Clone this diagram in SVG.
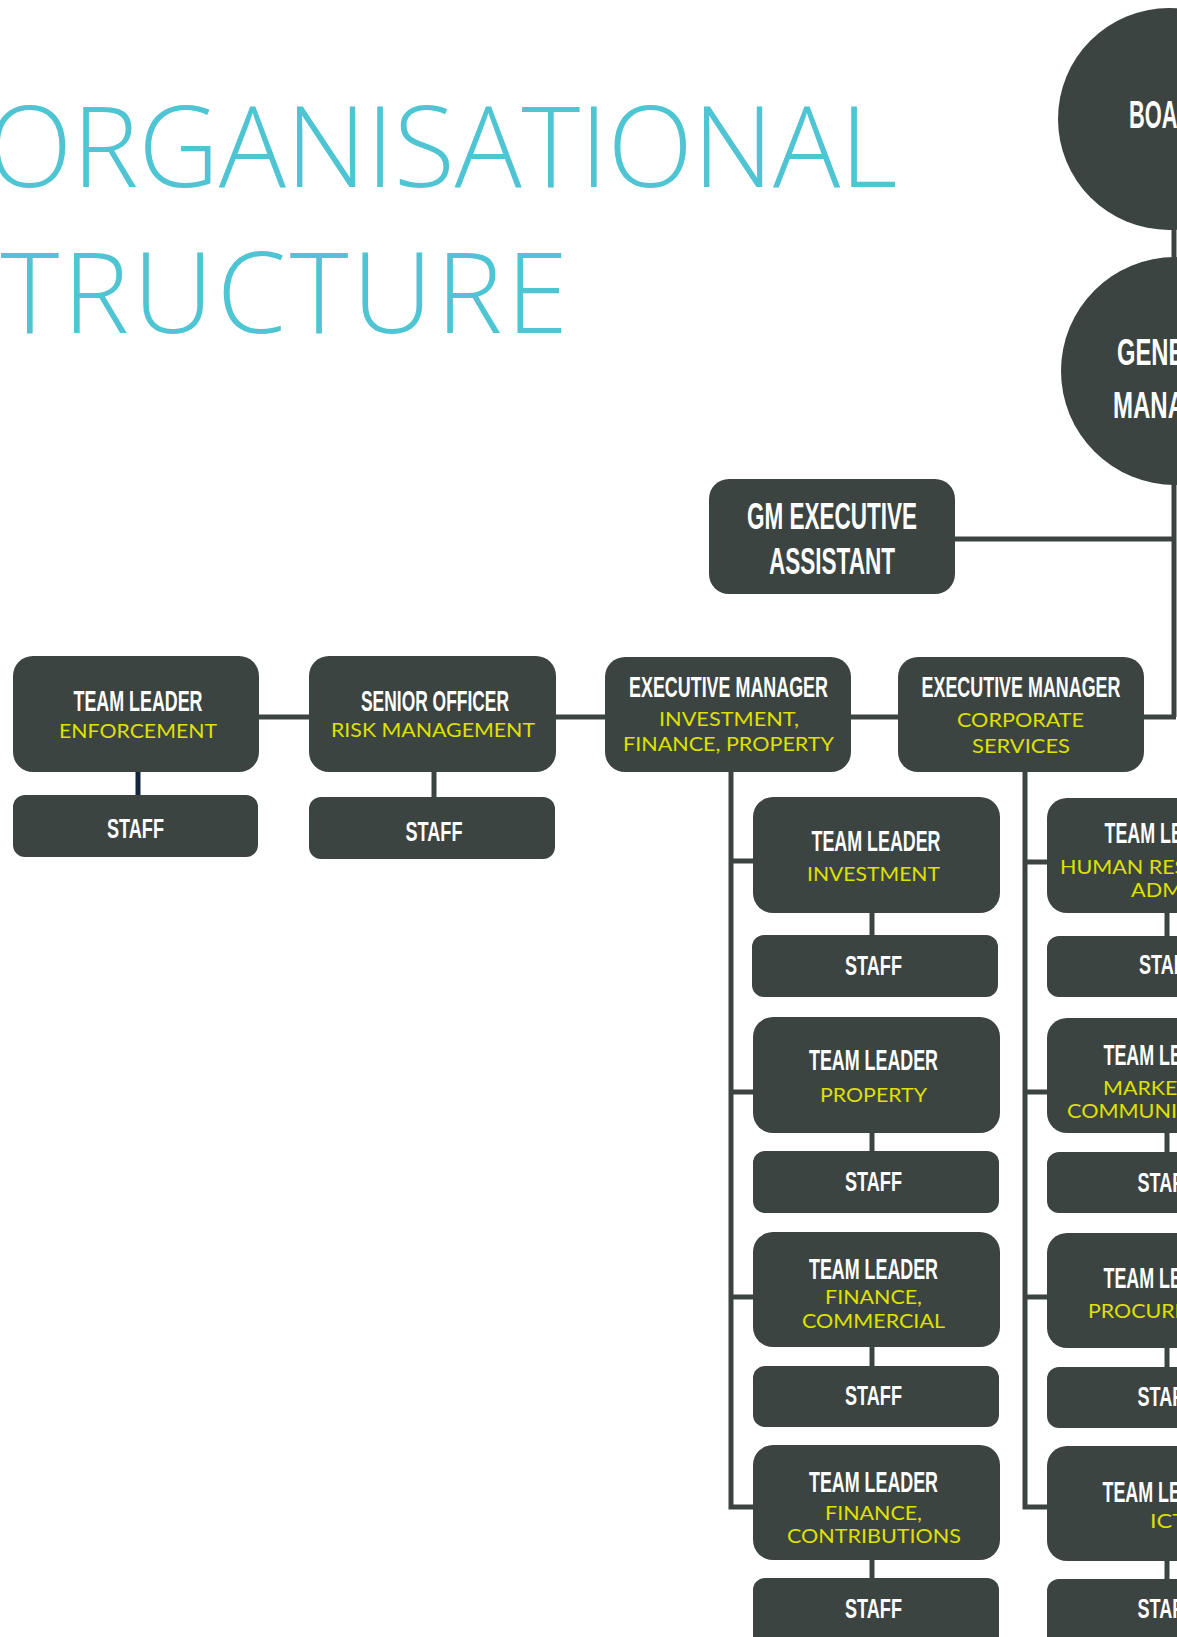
<svg xmlns="http://www.w3.org/2000/svg" width="1177" height="1637" viewBox="0 0 1177 1637">
<style>
.bg{fill:#ffffff}
.box{fill:#3c4441}
.ln{stroke:#3c4441;stroke-width:5;fill:none}
.nv{stroke:#16273a;stroke-width:5;fill:none}
.t{font-family:"Liberation Sans",Arial,sans-serif;font-weight:bold;fill:#ffffff;text-anchor:middle;font-size:30px}
.s{font-size:28px}
.big{font-size:36px}
.y{font-family:Lato,"Open Sans",sans-serif;font-size:19.5px;fill:#dfe000;text-anchor:middle}
.ttl{font-family:"Open Sans","Liberation Sans",sans-serif;font-weight:300;font-size:112px;fill:#4fc5d4;text-anchor:end}
</style>
<rect class="bg" x="0" y="0" width="1177" height="1637"/>

<g id="title">
<text class="ttl" x="897" y="187" letter-spacing="-0.4">ORGANISATIONAL</text>
<text class="ttl" x="571.5" y="333" letter-spacing="3.5">STRUCTURE</text>
</g>

<g id="connectors">
<path class="ln" d="M1174 225 V262"/>
<path class="ln" d="M1174 480 V717"/>
<path class="ln" d="M955 539 H1174"/>
<path class="ln" d="M259 717 H1176"/>
<path class="nv" d="M138 770 V797"/>
<path class="ln" d="M434 770 V799"/>
<path class="ln" d="M731 770 V1507 H755"/>
<path class="ln" d="M731 861 H755 M731 1092 H755 M731 1297 H755"/>
<path class="ln" d="M1025 770 V1507 H1049"/>
<path class="ln" d="M1025 862 H1049 M1025 1092 H1049 M1025 1297 H1049"/>
<path class="ln" d="M872 911 V937 M872 1131 V1153 M872 1345 V1368 M872 1558 V1580"/>
<path class="ln" d="M1167 911 V938 M1167 1131 V1154 M1167 1346 V1369 M1167 1559 V1581"/>
</g>

<g id="board">
<circle class="box" cx="1169" cy="119" r="111"/>
<text class="t" x="1169" y="128" style="font-size:39px" textLength="80" lengthAdjust="spacingAndGlyphs">BOARD</text>
</g>
<g id="general-manager">
<circle class="box" cx="1175" cy="371" r="114"/>
<text class="t" x="1175" y="365" style="font-size:37px" textLength="116" lengthAdjust="spacingAndGlyphs">GENERAL</text>
<text class="t" x="1175" y="418" style="font-size:37px" textLength="124" lengthAdjust="spacingAndGlyphs">MANAGER</text>
</g>

<g id="gm-executive-assistant">
<rect class="box" x="709" y="479" width="246" height="115" rx="20"/>
<text class="t big" x="832" y="529" textLength="170" lengthAdjust="spacingAndGlyphs">GM EXECUTIVE</text>
<text class="t big" x="832" y="574" textLength="126" lengthAdjust="spacingAndGlyphs">ASSISTANT</text>
</g>

<g id="tl-enforcement">
<rect class="box" x="13" y="656" width="246" height="116" rx="20"/>
<text class="t" x="138" y="711" textLength="129" lengthAdjust="spacingAndGlyphs">TEAM LEADER</text>
<text class="y" x="138" y="738" textLength="158" lengthAdjust="spacingAndGlyphs">ENFORCEMENT</text>
</g>
<g id="staff-enforcement">
<rect class="box" x="13" y="795" width="245" height="62" rx="12"/>
<text class="t s" x="135.5" y="838" textLength="57" lengthAdjust="spacingAndGlyphs">STAFF</text>
</g>

<g id="so-risk">
<rect class="box" x="309" y="656" width="247" height="116" rx="20"/>
<text class="t" x="435" y="711" textLength="148" lengthAdjust="spacingAndGlyphs">SENIOR OFFICER</text>
<text class="y" x="433" y="737" textLength="204" lengthAdjust="spacingAndGlyphs">RISK MANAGEMENT</text>
</g>
<g id="staff-risk">
<rect class="box" x="309" y="797" width="246" height="62" rx="12"/>
<text class="t s" x="434" y="841" textLength="57" lengthAdjust="spacingAndGlyphs">STAFF</text>
</g>

<g id="em-ifp">
<rect class="box" x="605" y="657" width="246" height="115" rx="20"/>
<text class="t" x="728.5" y="697" textLength="199" lengthAdjust="spacingAndGlyphs">EXECUTIVE MANAGER</text>
<text class="y" x="729" y="726" textLength="140" lengthAdjust="spacingAndGlyphs">INVESTMENT,</text>
<text class="y" x="728.5" y="751" textLength="211" lengthAdjust="spacingAndGlyphs">FINANCE, PROPERTY</text>
</g>

<g id="em-cs">
<rect class="box" x="898" y="657" width="246" height="115" rx="20"/>
<text class="t" x="1021" y="697" textLength="199" lengthAdjust="spacingAndGlyphs">EXECUTIVE MANAGER</text>
<text class="y" x="1020.5" y="727" textLength="127" lengthAdjust="spacingAndGlyphs">CORPORATE</text>
<text class="y" x="1021" y="753" textLength="98" lengthAdjust="spacingAndGlyphs">SERVICES</text>
</g>

<g id="tl-investment">
<rect class="box" x="753" y="797" width="247" height="116" rx="20"/>
<text class="t" x="876" y="851" textLength="129" lengthAdjust="spacingAndGlyphs">TEAM LEADER</text>
<text class="y" x="873.5" y="881" textLength="133" lengthAdjust="spacingAndGlyphs">INVESTMENT</text>
</g>
<g id="staff-investment">
<rect class="box" x="752" y="935" width="246" height="62" rx="12"/>
<text class="t s" x="873.5" y="975" textLength="57" lengthAdjust="spacingAndGlyphs">STAFF</text>
</g>

<g id="tl-property">
<rect class="box" x="753" y="1017" width="247" height="116" rx="20"/>
<text class="t" x="873.5" y="1070" textLength="129" lengthAdjust="spacingAndGlyphs">TEAM LEADER</text>
<text class="y" x="873.5" y="1102" textLength="107" lengthAdjust="spacingAndGlyphs">PROPERTY</text>
</g>
<g id="staff-property">
<rect class="box" x="753" y="1151" width="246" height="62" rx="12"/>
<text class="t s" x="873.5" y="1191" textLength="57" lengthAdjust="spacingAndGlyphs">STAFF</text>
</g>

<g id="tl-finance-commercial">
<rect class="box" x="753" y="1232" width="247" height="115" rx="20"/>
<text class="t" x="873.5" y="1279" textLength="129" lengthAdjust="spacingAndGlyphs">TEAM LEADER</text>
<text class="y" x="873.5" y="1304" textLength="97" lengthAdjust="spacingAndGlyphs">FINANCE,</text>
<text class="y" x="873.5" y="1328" textLength="143" lengthAdjust="spacingAndGlyphs">COMMERCIAL</text>
</g>
<g id="staff-finance-commercial">
<rect class="box" x="753" y="1366" width="246" height="61" rx="12"/>
<text class="t s" x="873.5" y="1405" textLength="57" lengthAdjust="spacingAndGlyphs">STAFF</text>
</g>

<g id="tl-finance-contributions">
<rect class="box" x="753" y="1445" width="247" height="115" rx="20"/>
<text class="t" x="873.5" y="1492" textLength="129" lengthAdjust="spacingAndGlyphs">TEAM LEADER</text>
<text class="y" x="873.5" y="1520" textLength="97" lengthAdjust="spacingAndGlyphs">FINANCE,</text>
<text class="y" x="874" y="1543" textLength="174" lengthAdjust="spacingAndGlyphs">CONTRIBUTIONS</text>
</g>
<g id="staff-finance-contributions">
<rect class="box" x="753" y="1578" width="246" height="75" rx="12"/>
<text class="t s" x="873.5" y="1618" textLength="57" lengthAdjust="spacingAndGlyphs">STAFF</text>
</g>

<g id="tl-hr">
<rect class="box" x="1047" y="798" width="247" height="115" rx="20"/>
<text class="t" x="1169" y="843" textLength="129" lengthAdjust="spacingAndGlyphs">TEAM LEADER</text>
<text class="y" x="1168" y="874" textLength="216" lengthAdjust="spacingAndGlyphs">HUMAN RESOURCES,</text>
<text class="y" x="1168" y="897" textLength="74" lengthAdjust="spacingAndGlyphs">ADMIN</text>
</g>
<g id="staff-hr">
<rect class="box" x="1047" y="936" width="246" height="61" rx="12"/>
<text class="t s" x="1167.5" y="974" textLength="57" lengthAdjust="spacingAndGlyphs">STAFF</text>
</g>

<g id="tl-marketing">
<rect class="box" x="1047" y="1018" width="247" height="115" rx="20"/>
<text class="t" x="1168" y="1065" textLength="129" lengthAdjust="spacingAndGlyphs">TEAM LEADER</text>
<text class="y" x="1168" y="1095" textLength="130" lengthAdjust="spacingAndGlyphs">MARKETING,</text>
<text class="y" x="1168" y="1118" textLength="202" lengthAdjust="spacingAndGlyphs">COMMUNICATIONS</text>
</g>
<g id="staff-marketing">
<rect class="box" x="1047" y="1152" width="246" height="61" rx="12"/>
<text class="t s" x="1166" y="1192" textLength="57" lengthAdjust="spacingAndGlyphs">STAFF</text>
</g>

<g id="tl-procurement">
<rect class="box" x="1047" y="1233" width="247" height="115" rx="20"/>
<text class="t" x="1168" y="1288" textLength="129" lengthAdjust="spacingAndGlyphs">TEAM LEADER</text>
<text class="y" x="1168" y="1318" textLength="160" lengthAdjust="spacingAndGlyphs">PROCUREMENT</text>
</g>
<g id="staff-procurement">
<rect class="box" x="1047" y="1367" width="246" height="61" rx="12"/>
<text class="t s" x="1166" y="1406" textLength="57" lengthAdjust="spacingAndGlyphs">STAFF</text>
</g>

<g id="tl-ict">
<rect class="box" x="1047" y="1446" width="247" height="115" rx="20"/>
<text class="t" x="1167" y="1502" textLength="129" lengthAdjust="spacingAndGlyphs">TEAM LEADER</text>
<text class="y" x="1168" y="1528" textLength="36" lengthAdjust="spacingAndGlyphs">ICT</text>
</g>
<g id="staff-ict">
<rect class="box" x="1047" y="1579" width="246" height="75" rx="12"/>
<text class="t s" x="1166" y="1618" textLength="57" lengthAdjust="spacingAndGlyphs">STAFF</text>
</g>
</svg>
